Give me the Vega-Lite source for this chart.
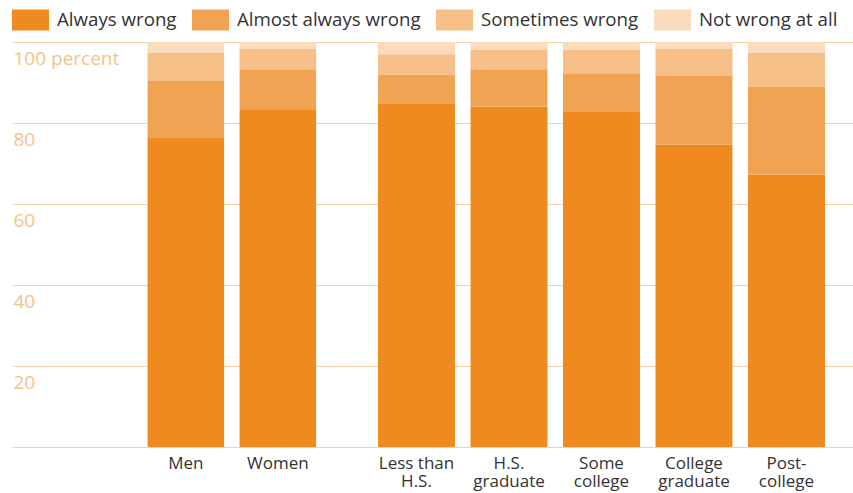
{
  "$schema": "https://vega.github.io/schema/vega-lite/v6.json",
  "autosize": {"type": "pad"},
  "padding": {"left": 12, "top": 1, "right": 0, "bottom": 12},
  "background": "white",
  "config": {
    "font": "Open Sans",
    "view": {"stroke": null},
    "concat": {"spacing": 0}
  },
  "datasets": {
    "gender": [
      {"category": "Men", "response": "Always wrong", "k": 0, "value": 76.5},
      {"category": "Men", "response": "Almost always wrong", "k": 1, "value": 13.9},
      {"category": "Men", "response": "Sometimes wrong", "k": 2, "value": 6.9},
      {"category": "Men", "response": "Not wrong at all", "k": 3, "value": 2.7},
      {"category": "Women", "response": "Always wrong", "k": 0, "value": 83.2},
      {"category": "Women", "response": "Almost always wrong", "k": 1, "value": 10.1},
      {"category": "Women", "response": "Sometimes wrong", "k": 2, "value": 5.0},
      {"category": "Women", "response": "Not wrong at all", "k": 3, "value": 1.7}
    ],
    "education": [
      {"category": "Less than H.S.", "response": "Always wrong", "k": 0, "value": 84.7},
      {"category": "Less than H.S.", "response": "Almost always wrong", "k": 1, "value": 7.2},
      {"category": "Less than H.S.", "response": "Sometimes wrong", "k": 2, "value": 5.1},
      {"category": "Less than H.S.", "response": "Not wrong at all", "k": 3, "value": 3.0},
      {"category": "H.S. graduate", "response": "Always wrong", "k": 0, "value": 84.0},
      {"category": "H.S. graduate", "response": "Almost always wrong", "k": 1, "value": 9.3},
      {"category": "H.S. graduate", "response": "Sometimes wrong", "k": 2, "value": 4.7},
      {"category": "H.S. graduate", "response": "Not wrong at all", "k": 3, "value": 2.0},
      {"category": "Some college", "response": "Always wrong", "k": 0, "value": 82.7},
      {"category": "Some college", "response": "Almost always wrong", "k": 1, "value": 9.6},
      {"category": "Some college", "response": "Sometimes wrong", "k": 2, "value": 5.7},
      {"category": "Some college", "response": "Not wrong at all", "k": 3, "value": 2.0},
      {"category": "College graduate", "response": "Always wrong", "k": 0, "value": 74.6},
      {"category": "College graduate", "response": "Almost always wrong", "k": 1, "value": 17.0},
      {"category": "College graduate", "response": "Sometimes wrong", "k": 2, "value": 6.7},
      {"category": "College graduate", "response": "Not wrong at all", "k": 3, "value": 1.7},
      {"category": "Post-college", "response": "Always wrong", "k": 0, "value": 67.2},
      {"category": "Post-college", "response": "Almost always wrong", "k": 1, "value": 21.7},
      {"category": "Post-college", "response": "Sometimes wrong", "k": 2, "value": 8.4},
      {"category": "Post-college", "response": "Not wrong at all", "k": 3, "value": 2.7}
    ]
  },
  "hconcat": [
    {
      "width": 338,
      "height": 405,
      "data": {"name": "gender"},
      "mark": {"type": "bar", "strokeWidth": 0},
      "encoding": {
        "x": {
          "field": "category", "type": "nominal", "sort": ["Men", "Women"],
          "scale": {"paddingInner": 0.168, "paddingOuter": 0.921, "align": 0.8},
          "axis": {"title": null, "domain": false, "ticks": false, "labelAngle": 0, "labelPadding": 8, "labelFontSize": 17, "labelColor": "#333333", "labelLineHeight": 18, "labelLimit": 0}
        },
        "y": {
          "field": "value", "type": "quantitative", "stack": "zero",
          "scale": {"domain": [0, 100], "nice": false},
          "axis": {
            "title": null, "values": [0, 20, 40, 60, 80, 100], "grid": true, "gridColor": "#F9D1A8", "gridWidth": 1,
            "domain": false, "ticks": false, "tickSize": 0, "labelAlign": "left", "labelBaseline": "alphabetic",
            "labelPadding": -1, "labelOffset": 22, "labelColor": "#F6C18B", "labelFontSize": 19, "labelFlush": false, "labelOverlap": false,
            "labelExpr": "datum.value == 100 ? '100 percent' : datum.value == 0 ? '' : datum.label"
          }
        },
        "color": {
          "field": "response", "type": "nominal",
          "scale": {"domain": ["Always wrong", "Almost always wrong", "Sometimes wrong", "Not wrong at all"], "range": ["#EE8A1F", "#F0A453", "#F6BF88", "#FADCBC"]},
          "legend": {
            "title": null, "orient": "none", "legendX": 0, "legendY": -41, "direction": "horizontal",
            "symbolType": "M-1,-0.5676H1V0.5676H-1Z", "symbolSize": 1369, "symbolStrokeWidth": 0, "symbolOpacity": 1,
            "labelFontSize": 18.7, "labelColor": "#333333", "labelOffset": 8, "columnPadding": 15, "labelLimit": 0
          }
        },
        "order": {"field": "k", "type": "quantitative"}
      }
    },
    {
      "width": 503,
      "height": 405,
      "data": {"name": "education"},
      "mark": {"type": "bar", "strokeWidth": 0},
      "encoding": {
        "x": {
          "field": "category", "type": "nominal",
          "sort": ["Less than H.S.", "H.S. graduate", "Some college", "College graduate", "Post-college"],
          "scale": {"paddingInner": 0.168, "paddingOuter": 0.303},
          "axis": {
            "title": null, "domain": false, "ticks": false, "labelAngle": 0, "labelPadding": 8, "labelFontSize": 17, "labelColor": "#333333", "labelLineHeight": 18, "labelLimit": 0,
            "labelExpr": "datum.value == 'Less than H.S.' ? ['Less than', 'H.S.'] : datum.value == 'Post-college' ? ['Post-', 'college'] : split(datum.value, ' ')"
          }
        },
        "y": {
          "field": "value", "type": "quantitative", "stack": "zero",
          "scale": {"domain": [0, 100], "nice": false},
          "axis": {"title": null, "values": [0, 20, 40, 60, 80, 100], "grid": true, "gridColor": "#F9D1A8", "gridWidth": 1, "domain": false, "ticks": false, "labels": false}
        },
        "color": {
          "field": "response", "type": "nominal",
          "scale": {"domain": ["Always wrong", "Almost always wrong", "Sometimes wrong", "Not wrong at all"], "range": ["#EE8A1F", "#F0A453", "#F6BF88", "#FADCBC"]}
        },
        "order": {"field": "k", "type": "quantitative"}
      }
    }
  ],
  "resolve": {"scale": {"color": "shared"}}
}
